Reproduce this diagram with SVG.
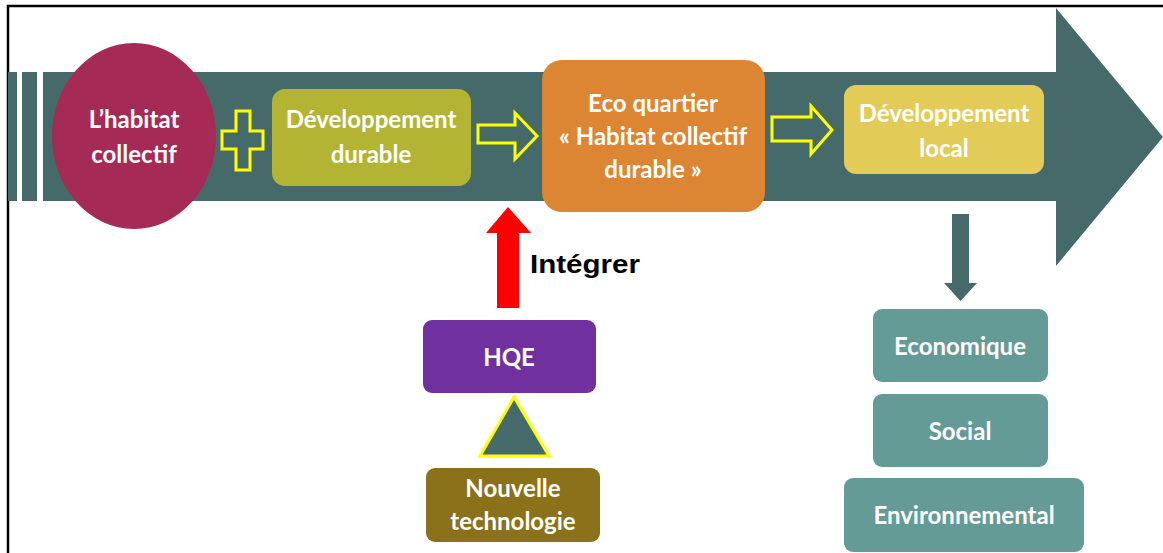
<svg xmlns="http://www.w3.org/2000/svg" width="1163" height="553" viewBox="0 0 1163 553">
<style>
.t{font-family:Lato,"Open Sans","Liberation Sans",sans-serif;font-weight:bold;fill:#ffffff;text-anchor:middle;font-size:24px}
.hollow{fill:#466a69;stroke:#ffff00;stroke-width:3;stroke-linejoin:miter}
</style>
<rect width="1163" height="553" fill="#ffffff"/>
<polyline points="8,553 8,6 1163,6" fill="none" stroke="#000000" stroke-width="2.5"/>
<g id="big-arrow">
<rect x="8" y="72" width="9" height="129" fill="#466a69"/>
<rect x="22" y="72" width="15" height="129" fill="#466a69"/>
<polygon points="43,72 1056,72 1056,8 1163,137 1056,266 1056,201 43,201" fill="#466a69"/>
</g>
<g id="connectors">
<path class="hollow" d="M236,111 H250 V131 H263 V149 H250 V170 H236 V149 H222 V131 H236 Z"/>
<polygon class="hollow" points="478,125 515,125 515,113 537,136 515,159 515,143 478,143"/>
<polygon class="hollow" points="772,117 811,117 811,106 832,130 811,154 811,141 772,141"/>
<polygon points="952,214 969,214 969,283 977,283 960.5,301 944,283 952,283" fill="#466a69"/>
<polygon points="497,308 519,308 519,233 531,233 508,207 486,233 497,233" fill="#ff0000"/>
<polygon points="514,397 549,456 480,456" fill="#466a69" stroke="#ffff00" stroke-width="3"/>
<text x="530" y="273" font-family="'Liberation Sans',Arial,sans-serif" font-weight="bold" font-size="26" fill="#000000" textLength="110" lengthAdjust="spacingAndGlyphs">Intégrer</text>
</g>
<g id="habitat">
<ellipse cx="134" cy="136" rx="82" ry="93" fill="#a62a56"/>
<text class="t" x="134" y="128">L’habitat</text>
<text class="t" x="134" y="163">collectif</text>
</g>
<g id="dev-durable">
<rect x="272" y="89" width="199" height="97" rx="13" fill="#b3b434"/>
<text class="t" x="371" y="128">Développement</text>
<text class="t" x="371" y="163">durable</text>
</g>
<g id="eco-quartier">
<rect x="542" y="60" width="223" height="152" rx="20" fill="#dc8532"/>
<text class="t" x="653" y="112">Eco quartier</text>
<text class="t" x="653" y="145">« Habitat collectif</text>
<text class="t" x="653" y="178">durable »</text>
</g>
<g id="dev-local">
<rect x="844" y="85" width="200" height="89" rx="12" fill="#e3cb58"/>
<text class="t" x="944" y="122">Développement</text>
<text class="t" x="944" y="157">local</text>
</g>
<g id="hqe">
<rect x="423" y="320" width="173" height="73" rx="9" fill="#7030a0"/>
<text class="t" x="509" y="366">HQE</text>
</g>
<g id="nouvelle-technologie">
<rect x="426" y="468" width="174" height="74" rx="9" fill="#8b721a"/>
<text class="t" x="513" y="497">Nouvelle</text>
<text class="t" x="513" y="530">technologie</text>
</g>
<g id="economique">
<rect x="873" y="309" width="175" height="73" rx="9" fill="#659b97"/>
<text class="t" x="960" y="355">Economique</text>
</g>
<g id="social">
<rect x="873" y="394" width="175" height="73" rx="9" fill="#659b97"/>
<text class="t" x="960" y="440">Social</text>
</g>
<g id="environnemental">
<rect x="844" y="478" width="240" height="74" rx="9" fill="#659b97"/>
<text class="t" x="964" y="524">Environnemental</text>
</g>
</svg>
